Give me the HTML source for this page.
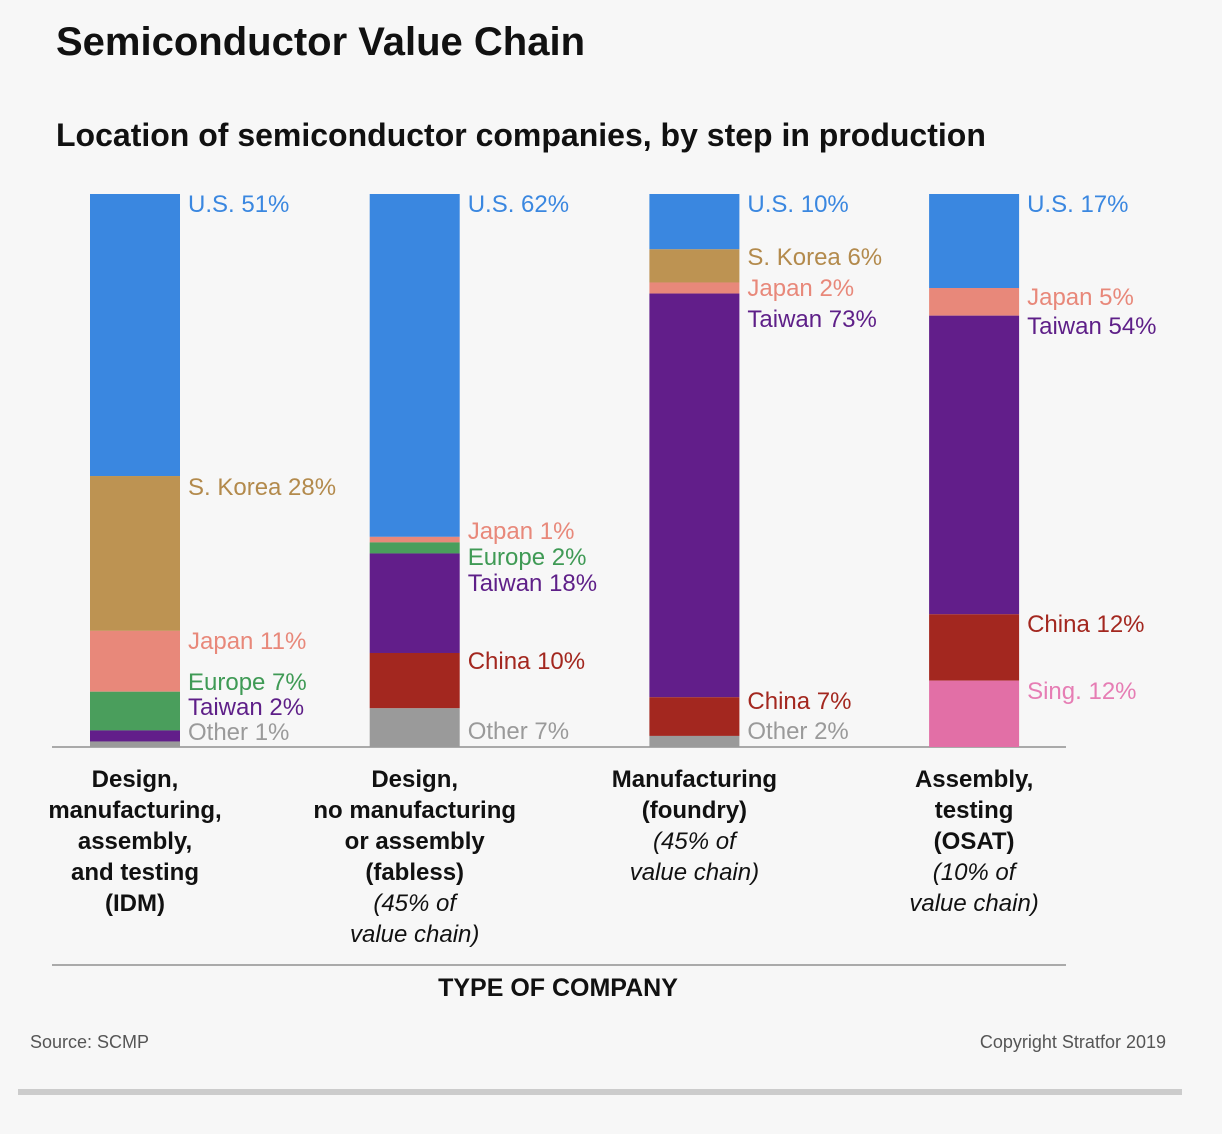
<!DOCTYPE html>
<html><head><meta charset="utf-8"><style>
body{margin:0;background:#f7f7f7;}
#c{position:relative;width:1222px;height:1134px;background:#f7f7f7;font-family:"Liberation Sans",sans-serif;overflow:hidden;}
</style></head><body>
<div id="c">
<svg id="svg" width="1222" height="1134" style="position:absolute;left:0;top:0">
<text x="56" y="55" font-size="40" font-weight="bold" fill="#111" font-family="Liberation Sans, sans-serif">Semiconductor Value Chain</text>
<text x="56" y="146" font-size="32" font-weight="bold" fill="#111" font-family="Liberation Sans, sans-serif">Location of semiconductor companies, by step in production</text>
<line x1="52" y1="747" x2="1066" y2="747" stroke="#aaa" stroke-width="2"/>
<line x1="52" y1="965" x2="1066" y2="965" stroke="#aaa" stroke-width="2"/>
<text x="558" y="996" font-size="25" font-weight="bold" text-anchor="middle" fill="#111" font-family="Liberation Sans, sans-serif">TYPE OF COMPANY</text>
<text x="30" y="1048" font-size="18" fill="#555" font-family="Liberation Sans, sans-serif">Source: SCMP</text>
<text x="1166" y="1048" font-size="18" fill="#555" text-anchor="end" font-family="Liberation Sans, sans-serif">Copyright Stratfor 2019</text>
<rect x="18" y="1089" width="1164" height="6" fill="#ccc"/>
</svg>
</div>
<script>
const categories = [
  ["Design,","manufacturing,","assembly,","and testing","(IDM)"],
  ["Design,","no manufacturing","or assembly","(fabless)","*(45% of","*value chain)"],
  ["Manufacturing","(foundry)","*(45% of","*value chain)"],
  ["Assembly,","testing","(OSAT)","*(10% of","*value chain)"]
];
const seriesNames = [
  ["U.S.","S. Korea","Japan","Europe","Taiwan","Other"],
  ["U.S.","Japan","Europe","Taiwan","China","Other"],
  ["U.S.","S. Korea","Japan","Taiwan","China","Other"],
  ["U.S.","Japan","Taiwan","China","Sing."]
];
const seriesValues = [
  [51,28,11,7,2,1],
  [62,1,2,18,10,7],
  [10,6,2,73,7,2],
  [17,5,54,12,12]
];
const labelY = [
  [204,487,641,682,707,732],
  [204,531,557,583,661,731],
  [204,257,288,319,701,731],
  [204,297,326,624,691]
];
const fillColors = {"U.S.":"#3a87e0","S. Korea":"#bd9352","Japan":"#e8887a","Europe":"#4a9e5c","Taiwan":"#621e8a","China":"#a3271f","Other":"#9a9a9a","Sing.":"#e26fa6"};
const textColors = {"U.S.":"#3a87e0","S. Korea":"#b38a4c","Japan":"#e8887a","Europe":"#3f9a55","Taiwan":"#5e1f88","China":"#a3271f","Other":"#9a9a9a","Sing.":"#e67db4"};
const NS="http://www.w3.org/2000/svg";
const svg=document.getElementById('svg');
const top0=194, base=747;
const yScale=v=>v/100*(base-top0);
const xPos=i=>90+i*279.7;
const barW=90;
seriesValues.forEach((vals,i)=>{
  let y=top0;
  const x=xPos(i);
  vals.forEach((v,j)=>{
    const h=yScale(v);
    const r=document.createElementNS(NS,'rect');
    r.setAttribute('x',x);r.setAttribute('y',y);r.setAttribute('width',barW);r.setAttribute('height',h);
    r.setAttribute('fill',fillColors[seriesNames[i][j]]);
    
    
    svg.appendChild(r);
    const t=document.createElementNS(NS,'text');
    t.setAttribute('x',x+barW+8);t.setAttribute('y',labelY[i][j]+8);
    t.setAttribute('font-size','24');t.setAttribute('font-family','Liberation Sans, sans-serif');
    t.setAttribute('fill',textColors[seriesNames[i][j]]);
    t.textContent=seriesNames[i][j]+' '+v+'%';
    
    
    svg.appendChild(t);
    y+=h;
  });
  categories[i].forEach((line,k)=>{
    const t=document.createElementNS(NS,'text');
    const it=line.startsWith('*');
    t.setAttribute('x',x+barW/2);t.setAttribute('y',787+k*31);
    t.setAttribute('text-anchor','middle');t.setAttribute('font-size','24');
    t.setAttribute('font-family','Liberation Sans, sans-serif');t.setAttribute('fill','#111');
    if(it){t.setAttribute('font-style','italic');}else{t.setAttribute('font-weight','bold');}
    t.textContent=it?line.slice(1):line;
    
    
    svg.appendChild(t);
  });
});
</script>
</body></html>
